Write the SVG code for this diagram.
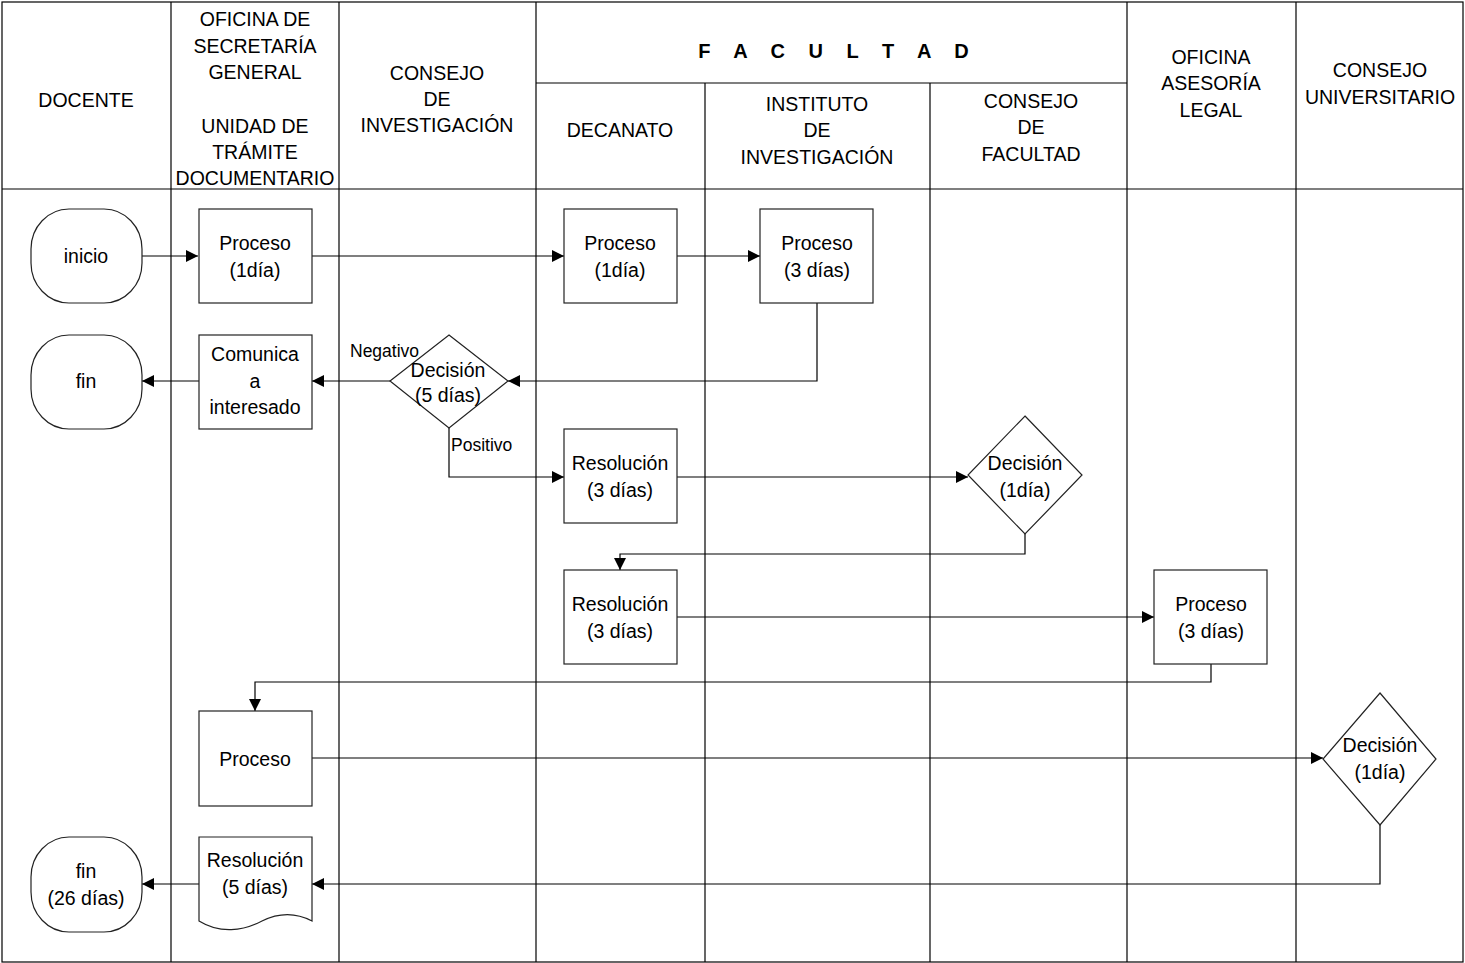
<svg xmlns="http://www.w3.org/2000/svg" width="1465" height="963" viewBox="0 0 1465 963">
<style>
text{font-family:"Liberation Sans",Arial,sans-serif;font-size:19.5px;fill:#000;text-anchor:middle}
.lbl{font-size:17.5px;text-anchor:start}
.grid{stroke:#000;stroke-width:1.2;fill:none}
.shape{fill:#fff;stroke:#222;stroke-width:1.2}
.conn{fill:none;stroke:#000;stroke-width:1.2}
.fac{font-weight:bold;letter-spacing:9px;font-size:20px}
</style>
<defs>
<marker id="arr" viewBox="0 0 12 12" refX="12" refY="6" markerWidth="12" markerHeight="12" markerUnits="userSpaceOnUse" orient="auto">
<path d="M0,0 L12,6 L0,12 Z" fill="#000"/>
</marker>
</defs>
<rect x="0" y="0" width="1465" height="963" fill="#fff"/>
<g id="lanes">
<rect class="grid" x="2" y="2" width="1461" height="960" stroke="#555"/>
<line class="grid" x1="2" y1="189" x2="1463" y2="189"/>
<line class="grid" x1="536" y1="83" x2="1127" y2="83"/>
<line class="grid" x1="171" y1="2" x2="171" y2="962"/>
<line class="grid" x1="339" y1="2" x2="339" y2="962"/>
<line class="grid" x1="536" y1="2" x2="536" y2="962"/>
<line class="grid" x1="705" y1="83" x2="705" y2="962"/>
<line class="grid" x1="930" y1="83" x2="930" y2="962"/>
<line class="grid" x1="1127" y1="2" x2="1127" y2="962"/>
<line class="grid" x1="1296" y1="2" x2="1296" y2="962"/>
<text x="86" y="107">DOCENTE</text>
<text x="255" y="26">OFICINA DE</text>
<text x="255" y="53">SECRETARÍA</text>
<text x="255" y="79">GENERAL</text>
<text x="255" y="133">UNIDAD DE</text>
<text x="255" y="159">TRÁMITE</text>
<text x="255" y="185">DOCUMENTARIO</text>
<text x="437" y="80">CONSEJO</text>
<text x="437" y="106">DE</text>
<text x="437" y="132">INVESTIGACIÓN</text>
<text class="fac" x="838" y="58">F A C U L T A D</text>
<text x="620" y="137">DECANATO</text>
<text x="817" y="111">INSTITUTO</text>
<text x="817" y="137">DE</text>
<text x="817" y="164">INVESTIGACIÓN</text>
<text x="1031" y="108">CONSEJO</text>
<text x="1031" y="134">DE</text>
<text x="1031" y="161">FACULTAD</text>
<text x="1211" y="64">OFICINA</text>
<text x="1211" y="90">ASESORÍA</text>
<text x="1211" y="117">LEGAL</text>
<text x="1380" y="77">CONSEJO</text>
<text x="1380" y="104">UNIVERSITARIO</text>
</g>
<g id="connectors">
<line class="conn" x1="142" y1="256" x2="198" y2="256" marker-end="url(#arr)"/>
<line class="conn" x1="311" y1="256" x2="564" y2="256" marker-end="url(#arr)"/>
<line class="conn" x1="677" y1="256" x2="760" y2="256" marker-end="url(#arr)"/>
<polyline class="conn" points="817,303 817,381 508,381" marker-end="url(#arr)"/>
<line class="conn" x1="390" y1="381" x2="312" y2="381" marker-end="url(#arr)"/>
<line class="conn" x1="199" y1="381" x2="142" y2="381" marker-end="url(#arr)"/>
<polyline class="conn" points="449,428 449,477 564,477" marker-end="url(#arr)"/>
<line class="conn" x1="677" y1="477" x2="968" y2="477" marker-end="url(#arr)"/>
<polyline class="conn" points="1025,534 1025,554 620,554 620,570" marker-end="url(#arr)"/>
<line class="conn" x1="677" y1="617" x2="1154" y2="617" marker-end="url(#arr)"/>
<polyline class="conn" points="1211,664 1211,682 255,682 255,711" marker-end="url(#arr)"/>
<line class="conn" x1="311" y1="758" x2="1323" y2="758" marker-end="url(#arr)"/>
<polyline class="conn" points="1380,824 1380,884 312,884" marker-end="url(#arr)"/>
<line class="conn" x1="199" y1="884" x2="142" y2="884" marker-end="url(#arr)"/>
<text class="lbl" x="350" y="357">Negativo</text>
<text class="lbl" x="451" y="451">Positivo</text>
</g>
<g id="inicio">
<rect class="shape" x="31" y="209" width="111" height="94" rx="38" ry="40"/>
<text x="86" y="263">inicio</text>
</g>
<g id="fin1">
<rect class="shape" x="31" y="335" width="111" height="94" rx="38" ry="40"/>
<text x="86" y="388">fin</text>
</g>
<g id="fin2">
<rect class="shape" x="31" y="837" width="111" height="95" rx="38" ry="40"/>
<text x="86" y="878">fin</text>
<text x="86" y="905">(26 días)</text>
</g>
<g id="sg_proceso1">
<rect class="shape" x="199" y="209" width="113" height="94"/>
<text x="255" y="250">Proceso</text>
<text x="255" y="277">(1día)</text>
</g>
<g id="sg_comunica">
<rect class="shape" x="199" y="335" width="113" height="94"/>
<text x="255" y="361">Comunica</text>
<text x="255" y="388">a</text>
<text x="255" y="414">interesado</text>
</g>
<g id="ci_decision">
<polygon class="shape" points="449,335 508,381 449,428 390,381"/>
<text x="448" y="377">Decisión</text>
<text x="448" y="402">(5 días)</text>
</g>
<g id="dec_proceso">
<rect class="shape" x="564" y="209" width="113" height="94"/>
<text x="620" y="250">Proceso</text>
<text x="620" y="277">(1día)</text>
</g>
<g id="inst_proceso">
<rect class="shape" x="760" y="209" width="113" height="94"/>
<text x="817" y="250">Proceso</text>
<text x="817" y="277">(3 días)</text>
</g>
<g id="dec_resolucion1">
<rect class="shape" x="564" y="429" width="113" height="94"/>
<text x="620" y="470">Resolución</text>
<text x="620" y="497">(3 días)</text>
</g>
<g id="cf_decision">
<polygon class="shape" points="1025,416 1082,475 1025,534 968,475"/>
<text x="1025" y="470">Decisión</text>
<text x="1025" y="497">(1día)</text>
</g>
<g id="dec_resolucion2">
<rect class="shape" x="564" y="570" width="113" height="94"/>
<text x="620" y="611">Resolución</text>
<text x="620" y="638">(3 días)</text>
</g>
<g id="al_proceso">
<rect class="shape" x="1154" y="570" width="113" height="94"/>
<text x="1211" y="611">Proceso</text>
<text x="1211" y="638">(3 días)</text>
</g>
<g id="sg_proceso2">
<rect class="shape" x="199" y="711" width="113" height="95"/>
<text x="255" y="766">Proceso</text>
</g>
<g id="cu_decision">
<polygon class="shape" points="1380,693 1436,759 1380,825 1323,759"/>
<text x="1380" y="752">Decisión</text>
<text x="1380" y="779">(1día)</text>
</g>
<g id="sg_resolucion">
<path class="shape" d="M199,837 H312 V921 C295,912 278,913 262,921 C243,931 220,934 199,921 Z"/>
<text x="255" y="867">Resolución</text>
<text x="255" y="894">(5 días)</text>
</g>
</svg>
